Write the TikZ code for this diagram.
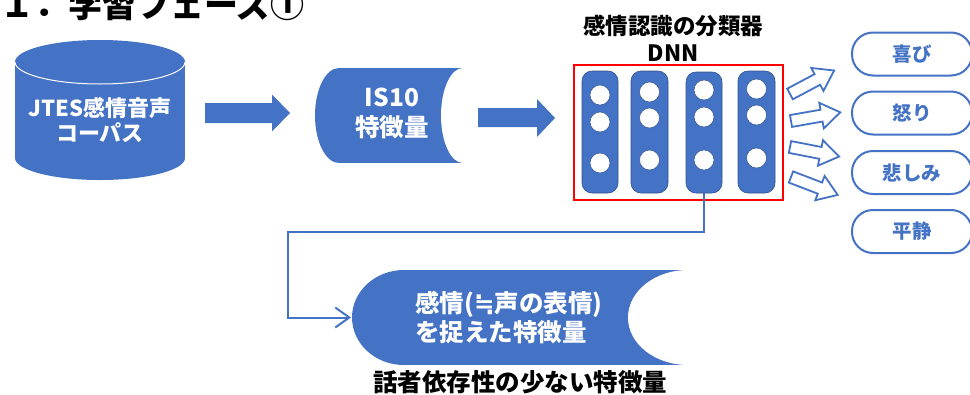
\documentclass[tikz,border=0pt]{standalone}
\usepackage{fontspec}
\setmainfont{Noto Sans CJK JP}
\newfontfamily\symfont{DejaVu Sans}
\usetikzlibrary{arrows.meta}
\definecolor{ofblue}{HTML}{4472C4}
\definecolor{ofdark}{HTML}{2F528F}
\newcommand{\fs}[2]{\fontsize{#1}{#2}\selectfont\bfseries}
\tikzset{
  wtext/.style={text=white, inner sep=0pt, align=center},
  btext/.style={text=black, inner sep=0pt, align=center},
  colbox/.style={fill=ofblue, draw=ofdark, line width=0.6pt, rounded corners=10pt},
  neuron/.style={circle, fill=white, draw=ofdark, line width=0.5pt, minimum size=20pt, inner sep=0pt},
  emobox/.style={draw=ofblue, line width=2pt, fill=white, rounded corners=21pt,
    minimum width=120pt, minimum height=43pt, text=ofblue, font=\fs{19.5}{22}},
  harrow/.pic={\draw[ofblue, line width=1.8pt, fill=white, line join=miter]
     (0,-6) -- (31,-6) -- (31,-13) -- (50,0) -- (31,13) -- (31,6) -- (0,6) -- cycle;}
}
\begin{document}
\begin{tikzpicture}[x=1pt,y=-1pt]
\useasboundingbox (0,0) rectangle (970,394);
\clip (0,0) rectangle (970,394);

% title
\node[btext, anchor=base west, font=\fs{34}{38}] (title) at (0,17) {１．学習フェーズ①};

% cylinder
\fill[ofblue] (15,62) rectangle (185,158);
\fill[ofblue] (100,158) ellipse [x radius=85, y radius=22];
\fill[ofblue] (100,62) ellipse [x radius=85, y radius=22];
\begin{scope}
  \clip (10,62) rectangle (190,90);
  \draw[white, line width=1pt] (100,62) ellipse [x radius=85, y radius=22];
\end{scope}
\node[wtext, font=\fs{22}{25}] (corpus) at (100,120) {JTES感情音声\\コーパス};

% arrow 1
\fill[ofblue] (205,103) -- (272,103) -- (272,94.5) -- (290,113) -- (272,131.5) -- (272,123) -- (205,123) -- cycle;

% IS10 stored data
\fill[ofblue] (339,68) rectangle (463,163);
\fill[ofblue] (339,115.5) ellipse [x radius=24, y radius=47.5];
\fill[white] (463,115.5) ellipse [x radius=22, y radius=47.5];
\node[wtext, font=\fs{24.5}{30}] (is10) at (392,113) {IS10\\特徴量};

% arrow 2
\fill[ofblue] (478,108) -- (537,108) -- (537,99) -- (555,118) -- (537,137) -- (537,127) -- (478,127) -- cycle;

% DNN
\node[btext, font=\fs{22.5}{27}] (dnnlabel) at (673,38) {感情認識の分類器\\DNN};
\draw[red, line width=2.5pt] (574,65) rectangle (783,200);
\coordinate (dnn) at (678.5,132.5);
\filldraw[colbox] (582,71) rectangle (618,193);
\filldraw[colbox] (631,71) rectangle (668,193);
\filldraw[colbox] (686,72) rectangle (722,193);
\filldraw[colbox] (738,71) rectangle (775,193);
\coordinate (col3) at (704,193);
\foreach \x/\a/\b/\c in {600/95/122/163, 649.5/92/118/160, 704/90/117/160, 756.5/89/115/158}{
  \node[neuron] at (\x,\a) {};
  \node[neuron] at (\x,\b) {};
  \node[neuron] at (\x,\c) {};
}

% hollow arrows
\pic[rotate=28] at (790,94) {harrow};
\pic[rotate=10] at (791,121) {harrow};
\pic[rotate=-11] at (790,147) {harrow};
\pic[rotate=-21] at (791,177) {harrow};

% emotion boxes
\node[emobox] (joy) at (912,54) {喜び};
\node[emobox] (anger) at (912,113) {怒り};
\node[emobox] (sad) at (912,172.5) {悲しみ};
\node[emobox] (calm) at (912,231.5) {平静};

% bottom stored data
\fill[ofblue] (404,270) rectangle (688,365);
\fill[ofblue] (404,317.5) ellipse [x radius=52, y radius=47.5];
\fill[white] (688,317.5) ellipse [x radius=60, y radius=47.5];
\coordinate (feat) at (351,317.5);
\node[wtext, align=left, anchor=west, font=\fs{24.5}{29}] (featxt) at (415,317.5) {感情({\symfont\bfseries ≒}声の表情)\\を捉えた特徴量};
\node[btext, font=\fs{24.5}{28}] (featlabel) at (520,382) {話者依存性の少ない特徴量};

% connector
\draw[ofblue, line width=2pt, line join=miter, -{Straight Barb[length=14pt, width=20pt, line width=2pt]}]
  (col3) -- (704,232) -- (288,232) -- (288,317.5) -- (feat);
\end{tikzpicture}
\end{document}
